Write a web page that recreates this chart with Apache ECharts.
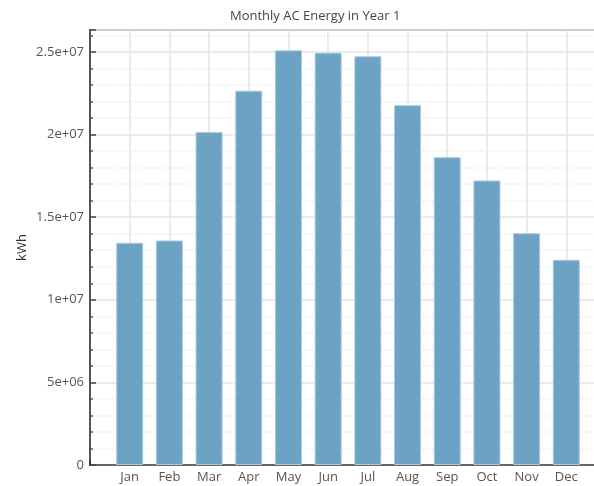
<!DOCTYPE html>
<html>
<head>
<meta charset="utf-8">
<script src="https://cdn.jsdelivr.net/npm/echarts@6/dist/echarts.min.js"></script>
<style>html,body{margin:0;padding:0;background:#fff}#c{width:594px;height:486px}</style>
</head>
<body>
<div id="c"></div>
<script>
var months = ['Jan','Feb','Mar','Apr','May','Jun','Jul','Aug','Sep','Oct','Nov','Dec'];
var energy = [13450000, 13590000, 20160000, 22660000, 25100000, 24960000, 24740000, 21780000, 18630000, 17220000, 14030000, 12420000];
var titleText = 'Monthly AC Energy in Year 1';
var yName = 'kWh';

var cats = [''].concat(months).concat(['']);
var vals = [null].concat(energy).concat([null]);

function fmt(v){
  if (v === 0) return '0';
  var s = v.toExponential();
  var m = s.split('e');
  var exp = parseInt(m[1], 10);
  var sign = exp < 0 ? '-' : '+';
  var a = Math.abs(exp);
  return m[0] + 'e' + sign + (a < 10 ? '0' + a : a);
}

var font = '"Open Sans", "Noto Sans", sans-serif';
var chart = echarts.init(document.getElementById('c'), null, {renderer:'canvas'});
chart.setOption({
  animation: false,
  backgroundColor: '#fff',
  title: {
    text: titleText, left: 225, top: 5,
    textStyle: {fontSize: 13, fontWeight: 'normal', color: '#444', fontFamily: font}
  },
  grid: {
    left: 90, top: 30, bottom: 21, right: -12,
    outerBoundsMode: 'none', containLabel: false,
    show: true, borderColor: '#8a8a8a', borderWidth: 2, backgroundColor: 'transparent'
  },
  xAxis: {
    type: 'category', data: cats, boundaryGap: false,
    axisLine: {lineStyle: {color: '#444', width: 1.5}},
    axisTick: {inside: true, length: 5, lineStyle: {color: '#333', width: 1.5}},
    axisLabel: {color: '#555', fontSize: 13, fontFamily: font, margin: 6, interval: 0},
    splitLine: {show: true, lineStyle: {color: '#e4e4e4', width: 1.5}}
  },
  yAxis: {
    type: 'value', min: 0, max: 26330000, interval: 5000000,
    name: yName, nameLocation: 'middle', nameGap: 61, nameRotate: 90, nameMoveOverlap: false,
    nameTextStyle: {color: '#333', fontSize: 13, fontFamily: font},
    axisLine: {show: true, lineStyle: {color: '#555', width: 2}},
    axisTick: {show: true, inside: true, length: 6, lineStyle: {color: '#444', width: 1.5}},
    minorTick: {show: true, splitNumber: 5, length: 3, lineStyle: {color: '#555', width: 1.5}},
    axisLabel: {color: '#555', fontSize: 13, fontFamily: font, margin: 6, formatter: fmt, showMaxLabel: false},
    splitLine: {show: true, lineStyle: {color: '#e4e4e4', width: 1.5}},
    minorSplitLine: {show: true, lineStyle: {color: '#ececec', width: 1.5, type: 'dotted'}}
  },
  series: [{
    type: 'bar', data: vals, barWidth: 27,
    itemStyle: {color: '#6ca3c5', borderColor: '#a9cbe0', borderWidth: 1}
  }]
});
</script>
</body>
</html>
